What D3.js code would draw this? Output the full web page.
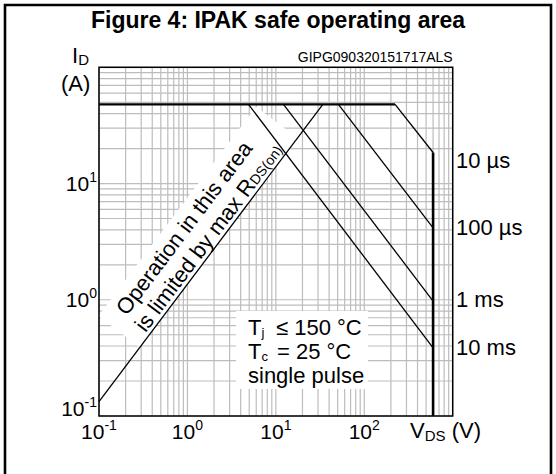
<!DOCTYPE html>
<html><head><meta charset="utf-8">
<script src="https://cdn.jsdelivr.net/npm/d3@7"></script>
<style>
html,body{margin:0;padding:0;background:#fff;}
svg{display:block;font-family:"Liberation Sans",Arial,sans-serif;}
</style></head>
<body><div id="chart"></div>
<script>
// ---- data ----
const title = "Figure 4: IPAK safe operating area";
const code = "GIPG090320151717ALS";
const xDomain = [0.1, 1000];
const yDomain = [0.1, 100];
const xTickValues = [0.1, 1, 10, 100];
const xTickExp = ["-1", "0", "1", "2"];
const yTickValues = [0.1, 1, 10];
const yTickExp = ["-1", "0", "1"];
const idMax = 48;          // A
const vdsMax = 600;        // V
const rdsLimit = [[0.1, 0.133], [34, 48]];
const pulseNames = ["10 µs", "100 µs", "1 ms", "10 ms"];
const pulseStartV = [223, 51, 12.2, 4.9];     // V where curve leaves Id max
const pulseEndI = [18.5, 4.16, 0.975, 0.386]; // A at Vds max
const pulseLabelI = [16, 4.2, 1, 0.39];
const conditions = ["≤ 150 °C", "= 25 °C", "single pulse"];

// ---- chart ----
const W = 556, H = 474;
const svg = d3.select("#chart").append("svg").attr("width", W).attr("height", H);
const x = d3.scaleLog().domain(xDomain).range([99, 452.7]);
const y = d3.scaleLog().domain(yDomain).range([416, 67.3]);

// outer frame
svg.append("path").attr("d", `M5,${H} V5 H551 V${H}`).attr("fill", "none")
  .attr("stroke", "#000").attr("stroke-width", 2.6);

svg.append("text").attr("x", 278).attr("y", 28).attr("text-anchor", "middle")
  .attr("font-size", 23).attr("font-weight", "bold").text(title);

// grid
const grid = svg.append("g").attr("stroke", "#bdbdbd").attr("stroke-width", 1.2);
x.ticks().forEach(v => grid.append("line").attr("x1", x(v)).attr("x2", x(v))
  .attr("y1", y.range()[0]).attr("y2", y.range()[1]));
y.ticks().forEach(v => grid.append("line").attr("y1", y(v)).attr("y2", y(v))
  .attr("x1", x.range()[0]).attr("x2", x.range()[1]));

// white backgrounds behind annotations
svg.append("rect").attr("x", 236).attr("y", 311).attr("width", 132).attr("height", 78).attr("fill", "#fff");

const p0 = [x(rdsLimit[0][0]), y(rdsLimit[0][1])];
const p1 = [x(rdsLimit[1][0]), y(rdsLimit[1][1])];
const ang = Math.atan2(p0[1] - p1[1], p1[0] - p0[0]) * 180 / Math.PI;
const rg = svg.append("g").attr("transform", `translate(${p0[0]},${p0[1]}) rotate(${-ang})`);
rg.append("rect").attr("x", 68).attr("y", -52).attr("width", 262).attr("height", 52).attr("fill", "#fff");

// plot frame
svg.append("rect").attr("x", x.range()[0]).attr("y", y.range()[1])
  .attr("width", x.range()[1] - x.range()[0]).attr("height", y.range()[0] - y.range()[1])
  .attr("fill", "none").attr("stroke", "#000").attr("stroke-width", 1.5);

const line = d3.line().x(d => x(d[0])).y(d => y(d[1]));
// thick boundary
svg.append("path").attr("d", line([[xDomain[0], idMax], [pulseStartV[0], idMax]]))
  .attr("fill", "none").attr("stroke", "#000").attr("stroke-width", 2.2);
svg.append("path").attr("d", line([[vdsMax, pulseEndI[0]], [vdsMax, yDomain[0]]]))
  .attr("fill", "none").attr("stroke", "#000").attr("stroke-width", 2.6);
// diagonals
pulseNames.forEach((n, i) => {
  svg.append("path").attr("d", line([[pulseStartV[i], idMax], [vdsMax, pulseEndI[i]]]))
    .attr("fill", "none").attr("stroke", "#000").attr("stroke-width", 1.3);
  svg.append("text").attr("x", 456).attr("y", y(pulseLabelI[i])).attr("dy", "0.35em")
    .attr("font-size", 22).text(n);
});
svg.append("path").attr("d", line(rdsLimit)).attr("fill", "none")
  .attr("stroke", "#000").attr("stroke-width", 1.3);

// rotated annotation text
rg.append("text").attr("x", 190).attr("y", -29).attr("text-anchor", "middle").attr("font-size", 22)
  .text("Operation in this area");
const t2 = rg.append("text").attr("x", 197).attr("y", -4).attr("text-anchor", "middle").attr("font-size", 22);
t2.append("tspan").text("is limited by max R");
t2.append("tspan").attr("font-size", 14).text("DS(on)");

// conditions text
const c1 = svg.append("text").attr("x", 248).attr("y", 335).attr("font-size", 22);
c1.append("tspan").text("T");
c1.append("tspan").attr("font-size", 13).attr("dy", 2).text("j");
c1.append("tspan").attr("x", 276).attr("dy", -2).text(conditions[0]);
const c2 = svg.append("text").attr("x", 248).attr("y", 358.5).attr("font-size", 22);
c2.append("tspan").text("T");
c2.append("tspan").attr("font-size", 13).attr("dy", 2).text("c");
c2.append("tspan").attr("x", 277).attr("dy", -2).text(conditions[1]);
svg.append("text").attr("x", 248).attr("y", 383).attr("font-size", 22).text(conditions[2]);

// tick labels
xTickValues.forEach((v, i) => {
  const t = svg.append("text").attr("x", x(v)).attr("y", 439).attr("text-anchor", "middle").attr("font-size", 21);
  t.append("tspan").text("10");
  t.append("tspan").attr("font-size", 14).attr("dy", -9).text(xTickExp[i]);
});
yTickValues.forEach((v, i) => {
  const t = svg.append("text").attr("x", 97).attr("y", i === 0 ? 416 : y(v) + 7.5)
    .attr("text-anchor", "end").attr("font-size", 21);
  t.append("tspan").text("10");
  t.append("tspan").attr("font-size", 14).attr("dy", -9).text(yTickExp[i]);
});

// axis titles
const yl = svg.append("text").attr("x", 72).attr("y", 63).attr("font-size", 22);
yl.append("tspan").text("I");
yl.append("tspan").attr("font-size", 15).attr("dy", 2).text("D");
svg.append("text").attr("x", 61).attr("y", 91).attr("font-size", 22).text("(A)");
const xl = svg.append("text").attr("x", 410).attr("y", 438).attr("font-size", 22);
xl.append("tspan").text("V");
xl.append("tspan").attr("font-size", 15).attr("dy", 3).text("DS");
xl.append("tspan").attr("dy", -3).text("  (V)");
svg.append("text").attr("x", 452.7).attr("y", 62).attr("text-anchor", "end").attr("font-size", 14).text(code);
</script></body></html>
